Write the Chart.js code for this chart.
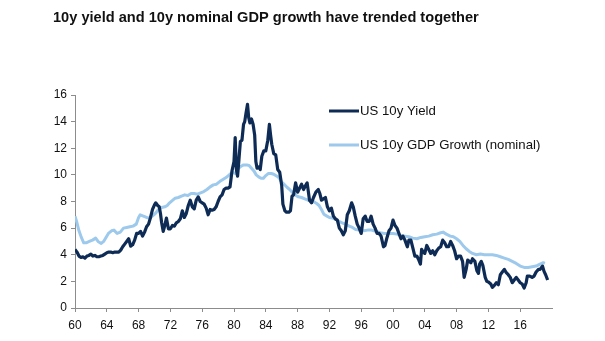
<!DOCTYPE html>
<html>
<head>
<meta charset="utf-8">
<script src="https://cdn.jsdelivr.net/npm/chart.js@4/dist/chart.umd.min.js"></script>
<style>
  html, body { margin: 0; padding: 0; background: #fff; }
  canvas { display: block; }
</style>
</head>
<body>
<canvas id="myChart" width="605" height="341"></canvas>
<script>
const titleText = "10y yield and 10y nominal GDP growth have trended together";
const seriesNames = ["US 10y Yield", "US 10y GDP Growth (nominal)"];
const seriesColors = ["#0d2b55", "#9dc9ec"];

// US 10y Treasury yield, %
const yieldYears = [
  1960.0, 1960.25, 1960.5, 1960.75, 1961.0, 1961.25, 1961.5, 1961.75, 1962.0, 1962.25, 1962.5, 1962.75,
  1963.0, 1963.25, 1963.5, 1963.75, 1964.0, 1964.25, 1964.5, 1964.75, 1965.0, 1965.25, 1965.5, 1965.75,
  1966.0, 1966.25, 1966.5, 1966.75, 1967.0, 1967.25, 1967.5, 1967.75, 1968.0, 1968.25, 1968.5, 1968.75,
  1969.0, 1969.25, 1969.5, 1969.75, 1970.0, 1970.15, 1970.4, 1970.6, 1970.75, 1970.9, 1971.1, 1971.3,
  1971.5, 1971.75, 1972.0, 1972.25, 1972.5, 1972.75, 1973.0, 1973.25, 1973.5, 1973.75, 1974.0, 1974.25,
  1974.5, 1974.75, 1975.0, 1975.25, 1975.5, 1975.75, 1976.0, 1976.25, 1976.5, 1976.75, 1977.0, 1977.25,
  1977.5, 1977.75, 1978.0, 1978.25, 1978.5, 1978.75, 1979.0, 1979.25, 1979.5, 1979.75, 1980.0, 1980.15,
  1980.3, 1980.45, 1980.6, 1980.8, 1981.0, 1981.2, 1981.35, 1981.5, 1981.7, 1981.85, 1982.0, 1982.2,
  1982.4, 1982.6, 1982.75, 1982.9, 1983.1, 1983.3, 1983.5, 1983.75, 1984.0, 1984.25, 1984.45, 1984.6,
  1984.75, 1985.0, 1985.25, 1985.5, 1985.75, 1986.0, 1986.15, 1986.4, 1986.6, 1986.9, 1987.1, 1987.3,
  1987.5, 1987.75, 1988.0, 1988.25, 1988.5, 1988.75, 1989.0, 1989.2, 1989.5, 1989.75, 1990.0, 1990.3,
  1990.6, 1990.8, 1991.0, 1991.25, 1991.5, 1991.75, 1992.0, 1992.25, 1992.5, 1992.75, 1993.0, 1993.25,
  1993.5, 1993.75, 1994.0, 1994.25, 1994.5, 1994.8, 1995.0, 1995.25, 1995.5, 1995.75, 1996.0, 1996.25,
  1996.5, 1996.75, 1997.0, 1997.25, 1997.5, 1997.75, 1998.0, 1998.25, 1998.5, 1998.8, 1999.0, 1999.25,
  1999.5, 1999.75, 2000.0, 2000.25, 2000.5, 2000.75, 2001.0, 2001.25, 2001.5, 2001.8, 2002.0, 2002.25,
  2002.5, 2002.75, 2003.0, 2003.25, 2003.45, 2003.6, 2003.8, 2004.0, 2004.25, 2004.5, 2004.75, 2005.0,
  2005.25, 2005.5, 2005.75, 2006.0, 2006.25, 2006.5, 2006.75, 2007.0, 2007.25, 2007.5, 2007.75, 2008.0,
  2008.25, 2008.5, 2008.75, 2008.95, 2009.2, 2009.4, 2009.6, 2009.8, 2010.0, 2010.3, 2010.55, 2010.75,
  2010.9, 2011.1, 2011.3, 2011.6, 2011.8, 2012.0, 2012.3, 2012.5, 2012.75, 2013.0, 2013.25, 2013.5,
  2013.75, 2014.0, 2014.25, 2014.5, 2014.75, 2015.0, 2015.25, 2015.5, 2015.75, 2016.0, 2016.25, 2016.5,
  2016.75, 2016.9, 2017.2, 2017.5, 2017.75, 2018.0, 2018.3, 2018.5, 2018.8, 2019.0, 2019.2, 2019.45
];
const yieldValues = [
  4.4, 4.2, 3.9, 3.8, 3.85, 3.75, 3.9, 3.95, 4.05, 3.9, 3.95, 3.85,
  3.85, 3.9, 3.95, 4.05, 4.15, 4.2, 4.2, 4.15, 4.2, 4.2, 4.2, 4.35,
  4.6, 4.8, 5.0, 5.2, 4.65, 4.75, 5.1, 5.6, 5.6, 5.75, 5.4, 5.7,
  6.1, 6.3, 6.8, 7.4, 7.75, 7.9, 7.7, 7.6, 7.1, 6.4, 5.75, 6.2,
  6.75, 5.95, 5.95, 6.2, 6.15, 6.4, 6.5, 6.7, 7.3, 6.8, 7.1, 7.7,
  8.1, 7.6, 7.45, 8.1, 8.35, 8.0, 7.9, 7.8, 7.5, 7.0, 7.4, 7.35,
  7.4, 7.6, 8.0, 8.35, 8.5, 8.9, 9.0, 9.0, 9.1, 10.3, 11.0, 12.8,
  10.4, 9.9, 11.0, 12.5, 12.6, 13.8, 14.0, 14.6, 15.3, 14.3, 13.9, 14.2,
  13.8, 13.0, 11.0, 10.5, 10.6, 10.4, 11.4, 11.8, 11.8, 12.6, 13.8, 13.0,
  12.3, 11.6, 11.5, 10.4, 10.2, 9.2, 7.8, 7.3, 7.2, 7.2, 7.3, 8.4,
  8.5, 9.4, 8.7, 9.0, 9.3, 8.9, 9.2, 9.4, 8.1, 7.9, 8.3, 8.7,
  8.9, 8.6, 8.1, 8.2, 8.3, 7.6, 7.3, 7.5, 6.9, 6.7, 6.6, 6.0,
  5.8, 5.5, 5.8, 7.0, 7.3, 7.9, 7.6, 6.9, 6.3, 6.0, 5.6, 6.7,
  6.9, 6.5, 6.5, 6.9, 6.3, 6.0, 5.6, 5.6, 5.4, 4.6, 4.7, 5.3,
  5.8, 6.0, 6.6, 6.2, 6.0, 5.6, 5.2, 5.4, 5.1, 4.6, 5.1, 5.1,
  4.5, 3.9, 3.9, 3.6, 3.3, 4.4, 4.2, 4.1, 4.7, 4.4, 4.1, 4.3,
  4.0, 4.3, 4.5, 4.6, 5.1, 4.9, 4.6, 4.6, 5.0, 4.7, 4.3, 3.7,
  3.9, 3.9, 3.5, 2.3, 2.9, 3.6, 3.5, 3.4, 3.7, 3.5, 2.8, 2.6,
  3.3, 3.5, 3.2, 2.3, 2.0, 1.95, 1.8, 1.55, 1.7, 1.9, 1.75, 2.5,
  2.7, 2.9, 2.65, 2.5, 2.3, 1.9, 2.1, 2.3, 2.1, 1.9, 1.8, 1.5,
  1.9, 2.4, 2.4, 2.3, 2.4, 2.7, 2.9, 2.9, 3.15, 2.75, 2.5, 2.1
];

// US nominal GDP growth, trailing 10y annualised, %
const gdpYears = [
  1960.0, 1960.2, 1960.5, 1960.8, 1961.1, 1961.4, 1961.8, 1962.2, 1962.6, 1962.9, 1963.3, 1963.6,
  1963.9, 1964.2, 1964.6, 1964.9, 1965.3, 1965.7, 1966.1, 1966.5, 1966.9, 1967.3, 1967.7, 1968.0,
  1968.2, 1968.6, 1969.0, 1969.4, 1969.8, 1970.1, 1970.5, 1970.9, 1971.3, 1971.6, 1971.9, 1972.3,
  1972.6, 1973.0, 1973.4, 1973.8, 1974.2, 1974.6, 1975.0, 1975.4, 1975.8, 1976.2, 1976.6, 1977.0,
  1977.4, 1977.8, 1978.2, 1978.6, 1979.0, 1979.4, 1979.8, 1980.2, 1980.5, 1980.9, 1981.2, 1981.6,
  1981.9, 1982.2, 1982.5, 1982.8, 1983.1, 1983.4, 1983.7, 1984.0, 1984.3, 1984.7, 1985.0, 1985.4,
  1985.7, 1986.0, 1986.3, 1986.7, 1987.0, 1987.4, 1987.8, 1988.1, 1988.5, 1988.9, 1989.3, 1989.7,
  1990.0, 1990.4, 1990.7, 1991.0, 1991.3, 1991.7, 1992.0, 1992.4, 1992.8, 1993.2, 1993.6, 1994.0,
  1994.5, 1994.9, 1995.3, 1995.8, 1996.3, 1996.8, 1997.3, 1997.9, 1998.4, 1998.9, 1999.5, 2000.0,
  2000.5, 2001.0, 2001.5, 2002.0, 2002.5, 2003.0, 2003.5, 2004.0, 2004.5, 2005.0, 2005.5, 2006.0,
  2006.3, 2006.7, 2007.2, 2007.6, 2008.0, 2008.4, 2008.8, 2009.2, 2009.6, 2010.0, 2010.5, 2011.0,
  2011.5, 2012.0, 2012.5, 2013.0, 2013.5, 2014.0, 2014.5, 2015.0, 2015.5, 2016.0, 2016.5, 2017.0,
  2017.5, 2018.0, 2018.5, 2018.9, 2019.1
];
const gdpValues = [
  6.9, 6.5, 5.8, 5.3, 4.9, 4.9, 5.0, 5.1, 5.25, 5.0, 4.85, 5.0,
  5.3, 5.6, 5.8, 5.85, 5.6, 5.7, 6.0, 6.05, 6.1, 6.15, 6.3, 6.8,
  7.0, 6.9, 6.8, 6.75, 6.95, 7.1, 7.4, 7.55, 7.6, 7.7, 7.9, 8.1,
  8.25, 8.3, 8.4, 8.5, 8.45, 8.6, 8.6, 8.55, 8.65, 8.75, 8.9, 9.1,
  9.25, 9.3, 9.5, 9.65, 9.8, 10.0, 10.2, 10.1, 10.45, 10.65, 10.75, 10.75,
  10.7, 10.5, 10.3, 10.0, 9.85, 9.75, 9.75, 9.95, 10.1, 10.1, 10.05, 9.9,
  9.75, 9.45, 9.3, 9.05, 8.9, 8.65, 8.45, 8.35, 8.3, 8.2, 8.1, 8.05,
  8.0, 7.85, 7.7, 7.4, 7.05, 6.9, 6.8, 6.75, 6.65, 6.5, 6.4, 6.3,
  6.15, 6.05, 5.9, 5.85, 5.8, 5.85, 5.85, 5.75, 5.65, 5.6, 5.6, 5.6,
  5.55, 5.45, 5.4, 5.35, 5.25, 5.2, 5.3, 5.35, 5.4, 5.5, 5.55, 5.65,
  5.7, 5.55, 5.4, 5.35, 5.2, 5.0, 4.7, 4.45, 4.25, 4.1, 4.0, 4.05,
  4.0, 4.0, 4.0, 3.95, 3.85, 3.75, 3.65, 3.5, 3.35, 3.15, 3.05, 3.05,
  3.1, 3.15, 3.3, 3.4, 3.35
];

const yTicks = [0, 2, 4, 6, 8, 10, 12, 14, 16];
const xTickYears = [1960, 1964, 1968, 1972, 1976, 1980, 1984, 1988, 1992, 1996, 2000, 2004, 2008, 2012, 2016];

const FONT = '"Liberation Sans", Arial, sans-serif';
const AXIS_GREY = "#8c8c8c";

function toPoints(xs, ys) {
  return xs.map((x, i) => ({ x: x, y: ys[i] }));
}

// title in the top-left corner
const titlePlugin = {
  id: "plainTitle",
  afterDraw(chart) {
    const ctx = chart.ctx;
    ctx.save();
    ctx.font = "bold 14.6px " + FONT;
    ctx.fillStyle = "#111";
    ctx.textBaseline = "middle";
    ctx.textAlign = "left";
    ctx.fillText(titleText, 53, 18);
    ctx.restore();
  }
};

// legend sits inside the plot, upper right
const innerLegend = {
  id: "innerLegend",
  afterDraw(chart) {
    const ctx = chart.ctx;
    const area = chart.chartArea;
    const x0 = area.left + 254;
    const rows = [area.top + 16, area.top + 50];
    ctx.save();
    ctx.font = "13.2px " + FONT;
    ctx.textBaseline = "middle";
    ctx.textAlign = "left";
    chart.data.datasets.forEach((ds, i) => {
      const y = rows[i];
      ctx.strokeStyle = ds.borderColor;
      ctx.lineWidth = 3;
      ctx.beginPath();
      ctx.moveTo(x0, y);
      ctx.lineTo(x0 + 30, y);
      ctx.stroke();
      ctx.fillStyle = "#111";
      ctx.fillText(ds.label, x0 + 31, y);
    });
    ctx.restore();
  }
};

new Chart("myChart", {
  type: "line",
  data: {
    datasets: [{
      label: seriesNames[0],
      data: toPoints(yieldYears, yieldValues),
      borderColor: seriesColors[0],
      borderWidth: 3.2,
      pointRadius: 0,
      tension: 0,
      borderJoinStyle: "round"
    }, {
      label: seriesNames[1],
      data: toPoints(gdpYears, gdpValues),
      borderColor: seriesColors[1],
      borderWidth: 3,
      pointRadius: 0,
      tension: 0,
      borderJoinStyle: "round"
    }]
  },
  options: {
    responsive: false,
    animation: false,
    layout: { padding: { left: 0, right: 53, top: 95, bottom: 0 } },
    plugins: {
      legend: { display: false },
      title: { display: false },
      tooltip: { enabled: false }
    },
    scales: {
      x: {
        type: "linear",
        min: 1960,
        max: 2020,
        afterBuildTicks(scale) {
          scale.ticks = xTickYears.map(v => ({ value: v }));
        },
        afterFit(scale) { scale.height = 33; },
        grid: { drawOnChartArea: false, drawTicks: true, tickLength: 4, color: AXIS_GREY },
        border: { display: true, color: AXIS_GREY, width: 1 },
        ticks: {
          autoSkip: false,
          maxRotation: 0,
          padding: 6,
          color: "#111",
          font: { family: FONT, size: 12 },
          callback: v => String(v % 100).padStart(2, "0")
        }
      },
      y: {
        min: 0,
        max: 16,
        afterBuildTicks(scale) {
          scale.ticks = yTicks.map(v => ({ value: v }));
        },
        afterFit(scale) { scale.width = 75; },
        grid: { drawOnChartArea: false, drawTicks: true, tickLength: 4, color: AXIS_GREY },
        border: { display: true, color: AXIS_GREY, width: 1 },
        ticks: {
          padding: 4,
          color: "#111",
          font: { family: FONT, size: 12 }
        }
      }
    }
  },
  plugins: [titlePlugin, innerLegend]
});
</script>
</body>
</html>
